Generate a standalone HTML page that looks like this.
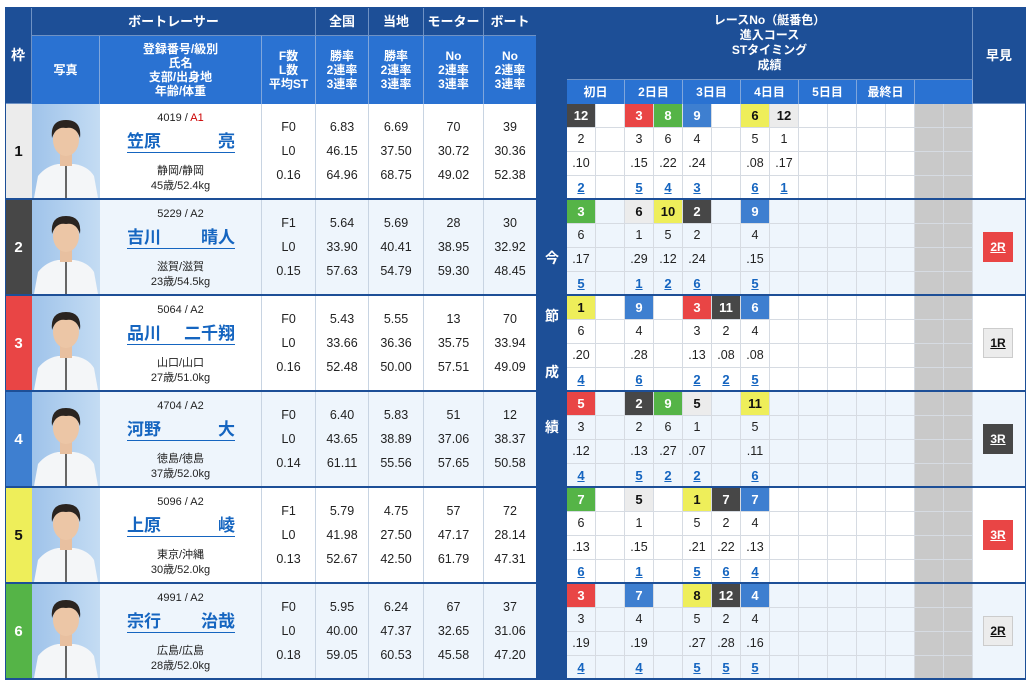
<!DOCTYPE html>
<html><head><meta charset="utf-8">
<style>
*{margin:0;padding:0;box-sizing:border-box}
body{width:1031px;height:687px;background:#fff;font-family:"Liberation Sans","Noto Sans CJK JP",sans-serif;position:relative;overflow:hidden;color:#222}
.a{position:absolute}
.hd{background:#1d4f97;color:#fff;font-weight:bold;font-size:13px;display:flex;align-items:center;justify-content:center;text-align:center;line-height:15px;border-right:1px solid #6f92c4;border-bottom:1px solid #6f92c4}
.hl{background:#2a72d2;color:#fff;font-weight:bold;font-size:12px;display:flex;align-items:center;justify-content:center;text-align:center;line-height:14px;border-right:1px solid #7fa6dc}
.row{position:absolute;left:5px;width:1021px;height:96px;border-bottom:2px solid #1d4f97}
.row.e{background:#eef5fc}
.fr{position:absolute;left:0;top:0;width:27px;height:94px;display:flex;align-items:center;justify-content:center;font-weight:bold;font-size:15px;color:#fff}
.ph{position:absolute;left:27px;top:0;width:68px;height:94px}
.nm{position:absolute;left:95px;width:162px;top:0;height:94px;text-align:center;font-size:11px;border-right:1px solid #c8d4e2}
.nm .r{position:absolute;top:8px;width:100%}
.nm .n{position:absolute;top:28px;left:27px;width:108px;display:flex;justify-content:space-between;color:#1565c0;font-weight:bold;font-size:17px;line-height:20px;border-bottom:1.5px solid #1565c0}
.nm .b{position:absolute;top:58px;width:100%}
.nm .g{position:absolute;top:73px;width:100%}
.st{position:absolute;top:0;height:94px;border-right:1px solid #c8d4e2;font-size:12.5px;text-align:center}
.st div{position:absolute;width:100%}
.st .v1{top:16px}.st .v2{top:40px}.st .v3{top:64px}
.gr{position:absolute;left:910px;top:0;width:58px;height:94px;background:#c9c9c9}
.dg{position:absolute;left:562px;top:0;width:406px;height:94px;
background:
repeating-linear-gradient(90deg,transparent 0 28px,#d6dbe2 28px 29px),
repeating-linear-gradient(180deg,transparent 0 23px,#d6dbe2 23px 24px);}
.dg div{position:absolute;width:28px;height:23px;text-align:center;font-size:12.5px;line-height:23px}
.dg .k{font-weight:bold;font-size:13px}
.dg .u{color:#1565c0;font-weight:bold;text-decoration:underline;font-size:13px}
.b1{background:#ececec;color:#111}.b2{background:#474747;color:#fff}.b3{background:#e94545;color:#fff}.b4{background:#3e7fd0;color:#fff}.b5{background:#eeee5a;color:#111}.b6{background:#55b447;color:#fff}
.btn{position:absolute;left:978px;top:32px;width:30px;height:30px;font-size:12px;font-weight:bold;text-decoration:underline;display:flex;align-items:center;justify-content:center;border:1px solid #ccc}
</style></head><body>
<svg width="0" height="0" style="position:absolute"><defs>
<linearGradient id="bg" x1="0" x2="1"><stop offset="0" stop-color="#9fc3ea"/><stop offset="1" stop-color="#c4dcf3"/></linearGradient>
<g id="p"><rect width="68" height="94" fill="url(#bg)"/><path d="M2 94 L6 72 Q14 62 26 60 L42 60 Q56 62 62 72 L66 94Z" fill="#f4f6f8"/><path d="M34 62 L34 94" stroke="#666" stroke-width="2"/><rect x="28" y="48" width="12" height="14" fill="#e8c0a0"/><ellipse cx="34" cy="36" rx="13" ry="16" fill="#ecc6a6"/><path d="M20 34 Q18 16 34 16 Q50 16 48 34 Q44 22 34 24 Q24 22 20 34Z" fill="#2a2420"/></g>
</defs></svg>

<div class="a hd" style="left:5px;top:7px;width:27px;height:97px;font-size:14px">枠</div>
<div class="a hd" style="left:32px;top:7px;width:284px;height:29px">ボートレーサー</div>
<div class="a hd" style="left:316px;top:7px;width:53px;height:29px">全国</div>
<div class="a hd" style="left:369px;top:7px;width:55px;height:29px">当地</div>
<div class="a hd" style="left:424px;top:7px;width:60px;height:29px">モーター</div>
<div class="a hd" style="left:484px;top:7px;width:53px;height:29px">ボート</div>
<div class="a hl" style="left:32px;top:36px;width:68px;height:68px">写真</div>
<div class="a hl" style="left:100px;top:36px;width:162px;height:68px">登録番号/級別<br>氏名<br>支部/出身地<br>年齢/体重</div>
<div class="a hl" style="left:262px;top:36px;width:54px;height:68px">F数<br>L数<br>平均ST</div>
<div class="a hl" style="left:316px;top:36px;width:53px;height:68px">勝率<br>2連率<br>3連率</div>
<div class="a hl" style="left:369px;top:36px;width:55px;height:68px">勝率<br>2連率<br>3連率</div>
<div class="a hl" style="left:424px;top:36px;width:60px;height:68px">No<br>2連率<br>3連率</div>
<div class="a hl" style="left:484px;top:36px;width:53px;height:68px">No<br>2連率<br>3連率</div>
<div class="a hd" style="left:567px;top:7px;width:406px;height:73px;font-size:12px;line-height:15px">レースNo（艇番色）<br>進入コース<br>STタイミング<br>成績</div>
<div class="a hd" style="left:973px;top:7px;width:53px;height:97px">早見</div>
<div class="a hl" style="left:567px;top:80px;width:58px;height:24px">初日</div>
<div class="a hl" style="left:625px;top:80px;width:58px;height:24px">2日目</div>
<div class="a hl" style="left:683px;top:80px;width:58px;height:24px">3日目</div>
<div class="a hl" style="left:741px;top:80px;width:58px;height:24px">4日目</div>
<div class="a hl" style="left:799px;top:80px;width:58px;height:24px">5日目</div>
<div class="a hl" style="left:857px;top:80px;width:58px;height:24px">最終日</div>
<div class="a hl" style="left:915px;top:80px;width:58px;height:24px"></div>

<div class="row" style="top:104px">
<div class="fr" style="background:#ececec;color:#111">1</div>
<svg class="ph" viewBox="0 0 68 94"><use href="#p"/></svg>
<div class="nm"><div class="r">4019 / <span style="color:#c00">A1</span></div><div class="n"><span>笠原</span><span>亮</span></div><div class="b">静岡/静岡</div><div class="g">45歳/52.4kg</div></div>
<div class="st" style="left:257px;width:54px"><div class="v1">F0</div><div class="v2">L0</div><div class="v3">0.16</div></div>
<div class="st" style="left:311px;width:53px"><div class="v1">6.83</div><div class="v2">46.15</div><div class="v3">64.96</div></div>
<div class="st" style="left:364px;width:55px"><div class="v1">6.69</div><div class="v2">37.50</div><div class="v3">68.75</div></div>
<div class="st" style="left:419px;width:60px"><div class="v1">70</div><div class="v2">30.72</div><div class="v3">49.02</div></div>
<div class="st" style="left:479px;width:53px"><div class="v1">39</div><div class="v2">30.36</div><div class="v3">52.38</div></div>
<div class="gr"></div>
<div class="dg">
<div class="k b2" style="left:0;top:0">12</div><div style="left:0;top:24px">2</div><div style="left:0;top:48px">.10</div><div class="u" style="left:0;top:72px">2</div>
<div class="k b3" style="left:58px;top:0">3</div><div style="left:58px;top:24px">3</div><div style="left:58px;top:48px">.15</div><div class="u" style="left:58px;top:72px">5</div>
<div class="k b6" style="left:87px;top:0">8</div><div style="left:87px;top:24px">6</div><div style="left:87px;top:48px">.22</div><div class="u" style="left:87px;top:72px">4</div>
<div class="k b4" style="left:116px;top:0">9</div><div style="left:116px;top:24px">4</div><div style="left:116px;top:48px">.24</div><div class="u" style="left:116px;top:72px">3</div>
<div class="k b5" style="left:174px;top:0">6</div><div style="left:174px;top:24px">5</div><div style="left:174px;top:48px">.08</div><div class="u" style="left:174px;top:72px">6</div>
<div class="k b1" style="left:203px;top:0">12</div><div style="left:203px;top:24px">1</div><div style="left:203px;top:48px">.17</div><div class="u" style="left:203px;top:72px">1</div>
</div>
</div>

<div class="row e" style="top:200px">
<div class="fr" style="background:#474747">2</div>
<svg class="ph" viewBox="0 0 68 94"><use href="#p"/></svg>
<div class="nm"><div class="r">5229 / A2</div><div class="n"><span>吉川</span><span>晴人</span></div><div class="b">滋賀/滋賀</div><div class="g">23歳/54.5kg</div></div>
<div class="st" style="left:257px;width:54px"><div class="v1">F1</div><div class="v2">L0</div><div class="v3">0.15</div></div>
<div class="st" style="left:311px;width:53px"><div class="v1">5.64</div><div class="v2">33.90</div><div class="v3">57.63</div></div>
<div class="st" style="left:364px;width:55px"><div class="v1">5.69</div><div class="v2">40.41</div><div class="v3">54.79</div></div>
<div class="st" style="left:419px;width:60px"><div class="v1">28</div><div class="v2">38.95</div><div class="v3">59.30</div></div>
<div class="st" style="left:479px;width:53px"><div class="v1">30</div><div class="v2">32.92</div><div class="v3">48.45</div></div>
<div class="gr"></div>
<div class="dg">
<div class="k b6" style="left:0;top:0">3</div><div style="left:0;top:24px">6</div><div style="left:0;top:48px">.17</div><div class="u" style="left:0;top:72px">5</div>
<div class="k b1" style="left:58px;top:0">6</div><div style="left:58px;top:24px">1</div><div style="left:58px;top:48px">.29</div><div class="u" style="left:58px;top:72px">1</div>
<div class="k b5" style="left:87px;top:0">10</div><div style="left:87px;top:24px">5</div><div style="left:87px;top:48px">.12</div><div class="u" style="left:87px;top:72px">2</div>
<div class="k b2" style="left:116px;top:0">2</div><div style="left:116px;top:24px">2</div><div style="left:116px;top:48px">.24</div><div class="u" style="left:116px;top:72px">6</div>
<div class="k b4" style="left:174px;top:0">9</div><div style="left:174px;top:24px">4</div><div style="left:174px;top:48px">.15</div><div class="u" style="left:174px;top:72px">5</div>
</div>
<div class="btn b3" style="border-color:#e94545">2R</div>
</div>

<div class="row" style="top:296px">
<div class="fr" style="background:#e94545">3</div>
<svg class="ph" viewBox="0 0 68 94"><use href="#p"/></svg>
<div class="nm"><div class="r">5064 / A2</div><div class="n"><span>品川</span><span>二千翔</span></div><div class="b">山口/山口</div><div class="g">27歳/51.0kg</div></div>
<div class="st" style="left:257px;width:54px"><div class="v1">F0</div><div class="v2">L0</div><div class="v3">0.16</div></div>
<div class="st" style="left:311px;width:53px"><div class="v1">5.43</div><div class="v2">33.66</div><div class="v3">52.48</div></div>
<div class="st" style="left:364px;width:55px"><div class="v1">5.55</div><div class="v2">36.36</div><div class="v3">50.00</div></div>
<div class="st" style="left:419px;width:60px"><div class="v1">13</div><div class="v2">35.75</div><div class="v3">57.51</div></div>
<div class="st" style="left:479px;width:53px"><div class="v1">70</div><div class="v2">33.94</div><div class="v3">49.09</div></div>
<div class="gr"></div>
<div class="dg">
<div class="k b5" style="left:0;top:0">1</div><div style="left:0;top:24px">6</div><div style="left:0;top:48px">.20</div><div class="u" style="left:0;top:72px">4</div>
<div class="k b4" style="left:58px;top:0">9</div><div style="left:58px;top:24px">4</div><div style="left:58px;top:48px">.28</div><div class="u" style="left:58px;top:72px">6</div>
<div class="k b3" style="left:116px;top:0">3</div><div style="left:116px;top:24px">3</div><div style="left:116px;top:48px">.13</div><div class="u" style="left:116px;top:72px">2</div>
<div class="k b2" style="left:145px;top:0">11</div><div style="left:145px;top:24px">2</div><div style="left:145px;top:48px">.08</div><div class="u" style="left:145px;top:72px">2</div>
<div class="k b4" style="left:174px;top:0">6</div><div style="left:174px;top:24px">4</div><div style="left:174px;top:48px">.08</div><div class="u" style="left:174px;top:72px">5</div>
</div>
<div class="btn b1" style="color:#111">1R</div>
</div>

<div class="row e" style="top:392px">
<div class="fr" style="background:#3e7fd0">4</div>
<svg class="ph" viewBox="0 0 68 94"><use href="#p"/></svg>
<div class="nm"><div class="r">4704 / A2</div><div class="n"><span>河野</span><span>大</span></div><div class="b">徳島/徳島</div><div class="g">37歳/52.0kg</div></div>
<div class="st" style="left:257px;width:54px"><div class="v1">F0</div><div class="v2">L0</div><div class="v3">0.14</div></div>
<div class="st" style="left:311px;width:53px"><div class="v1">6.40</div><div class="v2">43.65</div><div class="v3">61.11</div></div>
<div class="st" style="left:364px;width:55px"><div class="v1">5.83</div><div class="v2">38.89</div><div class="v3">55.56</div></div>
<div class="st" style="left:419px;width:60px"><div class="v1">51</div><div class="v2">37.06</div><div class="v3">57.65</div></div>
<div class="st" style="left:479px;width:53px"><div class="v1">12</div><div class="v2">38.37</div><div class="v3">50.58</div></div>
<div class="gr"></div>
<div class="dg">
<div class="k b3" style="left:0;top:0">5</div><div style="left:0;top:24px">3</div><div style="left:0;top:48px">.12</div><div class="u" style="left:0;top:72px">4</div>
<div class="k b2" style="left:58px;top:0">2</div><div style="left:58px;top:24px">2</div><div style="left:58px;top:48px">.13</div><div class="u" style="left:58px;top:72px">5</div>
<div class="k b6" style="left:87px;top:0">9</div><div style="left:87px;top:24px">6</div><div style="left:87px;top:48px">.27</div><div class="u" style="left:87px;top:72px">2</div>
<div class="k b1" style="left:116px;top:0">5</div><div style="left:116px;top:24px">1</div><div style="left:116px;top:48px">.07</div><div class="u" style="left:116px;top:72px">2</div>
<div class="k b5" style="left:174px;top:0">11</div><div style="left:174px;top:24px">5</div><div style="left:174px;top:48px">.11</div><div class="u" style="left:174px;top:72px">6</div>
</div>
<div class="btn b2" style="border-color:#474747">3R</div>
</div>

<div class="row" style="top:488px">
<div class="fr" style="background:#eeee5a;color:#111">5</div>
<svg class="ph" viewBox="0 0 68 94"><use href="#p"/></svg>
<div class="nm"><div class="r">5096 / A2</div><div class="n"><span>上原</span><span>崚</span></div><div class="b">東京/沖縄</div><div class="g">30歳/52.0kg</div></div>
<div class="st" style="left:257px;width:54px"><div class="v1">F1</div><div class="v2">L0</div><div class="v3">0.13</div></div>
<div class="st" style="left:311px;width:53px"><div class="v1">5.79</div><div class="v2">41.98</div><div class="v3">52.67</div></div>
<div class="st" style="left:364px;width:55px"><div class="v1">4.75</div><div class="v2">27.50</div><div class="v3">42.50</div></div>
<div class="st" style="left:419px;width:60px"><div class="v1">57</div><div class="v2">47.17</div><div class="v3">61.79</div></div>
<div class="st" style="left:479px;width:53px"><div class="v1">72</div><div class="v2">28.14</div><div class="v3">47.31</div></div>
<div class="gr"></div>
<div class="dg">
<div class="k b6" style="left:0;top:0">7</div><div style="left:0;top:24px">6</div><div style="left:0;top:48px">.13</div><div class="u" style="left:0;top:72px">6</div>
<div class="k b1" style="left:58px;top:0">5</div><div style="left:58px;top:24px">1</div><div style="left:58px;top:48px">.15</div><div class="u" style="left:58px;top:72px">1</div>
<div class="k b5" style="left:116px;top:0">1</div><div style="left:116px;top:24px">5</div><div style="left:116px;top:48px">.21</div><div class="u" style="left:116px;top:72px">5</div>
<div class="k b2" style="left:145px;top:0">7</div><div style="left:145px;top:24px">2</div><div style="left:145px;top:48px">.22</div><div class="u" style="left:145px;top:72px">6</div>
<div class="k b4" style="left:174px;top:0">7</div><div style="left:174px;top:24px">4</div><div style="left:174px;top:48px">.13</div><div class="u" style="left:174px;top:72px">4</div>
</div>
<div class="btn b3" style="border-color:#e94545">3R</div>
</div>

<div class="row e" style="top:584px">
<div class="fr" style="background:#55b447">6</div>
<svg class="ph" viewBox="0 0 68 94"><use href="#p"/></svg>
<div class="nm"><div class="r">4991 / A2</div><div class="n"><span>宗行</span><span>治哉</span></div><div class="b">広島/広島</div><div class="g">28歳/52.0kg</div></div>
<div class="st" style="left:257px;width:54px"><div class="v1">F0</div><div class="v2">L0</div><div class="v3">0.18</div></div>
<div class="st" style="left:311px;width:53px"><div class="v1">5.95</div><div class="v2">40.00</div><div class="v3">59.05</div></div>
<div class="st" style="left:364px;width:55px"><div class="v1">6.24</div><div class="v2">47.37</div><div class="v3">60.53</div></div>
<div class="st" style="left:419px;width:60px"><div class="v1">67</div><div class="v2">32.65</div><div class="v3">45.58</div></div>
<div class="st" style="left:479px;width:53px"><div class="v1">37</div><div class="v2">31.06</div><div class="v3">47.20</div></div>
<div class="gr"></div>
<div class="dg">
<div class="k b3" style="left:0;top:0">3</div><div style="left:0;top:24px">3</div><div style="left:0;top:48px">.19</div><div class="u" style="left:0;top:72px">4</div>
<div class="k b4" style="left:58px;top:0">7</div><div style="left:58px;top:24px">4</div><div style="left:58px;top:48px">.19</div><div class="u" style="left:58px;top:72px">4</div>
<div class="k b5" style="left:116px;top:0">8</div><div style="left:116px;top:24px">5</div><div style="left:116px;top:48px">.27</div><div class="u" style="left:116px;top:72px">5</div>
<div class="k b2" style="left:145px;top:0">12</div><div style="left:145px;top:24px">2</div><div style="left:145px;top:48px">.28</div><div class="u" style="left:145px;top:72px">5</div>
<div class="k b4" style="left:174px;top:0">4</div><div style="left:174px;top:24px">4</div><div style="left:174px;top:48px">.16</div><div class="u" style="left:174px;top:72px">5</div>
</div>
<div class="btn b1" style="color:#111">2R</div>
</div>

<div class="a" style="left:537px;top:7px;width:30px;height:673px;background:#1d4f97;color:#fff;font-weight:bold;font-size:14px">
<div class="a" style="left:8px;top:241px">今</div>
<div class="a" style="left:8px;top:299px">節</div>
<div class="a" style="left:8px;top:355px">成</div>
<div class="a" style="left:8px;top:410px">績</div>
</div>
<div class="a" style="left:5px;top:7px;width:532px;height:673px;border:1px solid #1d4f97;pointer-events:none"></div>
<div class="a" style="left:567px;top:7px;width:459px;height:673px;border:1px solid #1d4f97;border-left:none;pointer-events:none"></div>
</body></html>
